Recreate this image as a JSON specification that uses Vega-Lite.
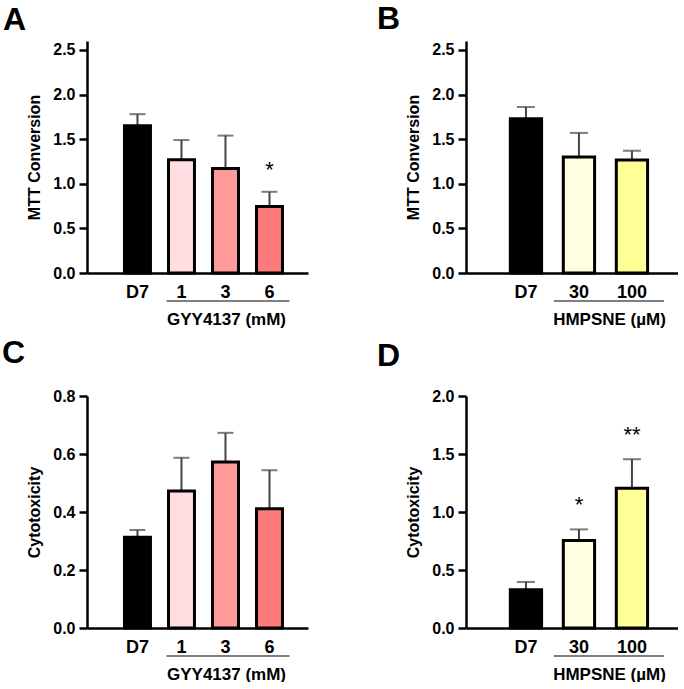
{
  "$schema": "https://vega.github.io/schema/vega-lite/v6.json",
  "background": "white",
  "padding": {"left": 2, "top": 3, "right": 0, "bottom": 0},
  "config": {
    "font": "Liberation Sans",
    "view": {"stroke": null},
    "axis": {
      "grid": false,
      "domainColor": "black",
      "domainWidth": 2.5,
      "tickColor": "black",
      "tickWidth": 2.5,
      "labelFont": "Liberation Sans",
      "labelFontWeight": "bold",
      "labelColor": "black",
      "titleFont": "Liberation Sans",
      "titleFontWeight": "bold",
      "titleColor": "black"
    },
    "axisY": {"tickSize": 8, "labelPadding": 4, "labelFontSize": 16, "titleFontSize": 16, "titlePadding": 10},
    "axisX": {"ticks": false, "tickSize": 0, "labelPadding": 10, "labelFontSize": 18, "labelAngle": 0, "titleFontSize": 17, "titleY": 51, "titleBaseline": "alphabetic", "titleAnchor": "middle"},
    "title": {"font": "Liberation Sans", "fontWeight": "bold", "fontSize": 32, "color": "black", "anchor": "start", "frame": "group", "baseline": "alphabetic"}
  },
  "datasets": {
    "A": [
      {"cond": "D7", "mean": 1.65, "upper": 1.78, "star": ""},
      {"cond": "1", "mean": 1.27, "upper": 1.49, "star": ""},
      {"cond": "3", "mean": 1.17, "upper": 1.54, "star": ""},
      {"cond": "6", "mean": 0.745, "upper": 0.91, "star": "*"}
    ],
    "B": [
      {"cond": "D7", "mean": 1.73, "upper": 1.86, "star": ""},
      {"cond": "30", "mean": 1.3, "upper": 1.57, "star": ""},
      {"cond": "100", "mean": 1.265, "upper": 1.37, "star": ""}
    ],
    "C": [
      {"cond": "D7", "mean": 0.313, "upper": 0.338, "star": ""},
      {"cond": "1", "mean": 0.472, "upper": 0.587, "star": ""},
      {"cond": "3", "mean": 0.572, "upper": 0.673, "star": ""},
      {"cond": "6", "mean": 0.411, "upper": 0.544, "star": ""}
    ],
    "D": [
      {"cond": "D7", "mean": 0.33, "upper": 0.397, "star": ""},
      {"cond": "30", "mean": 0.755, "upper": 0.85, "star": "*"},
      {"cond": "100", "mean": 1.205, "upper": 1.455, "star": "**"}
    ],
    "gGYY": [{"from": "1", "to": "6"}],
    "gHMP": [{"from": "30", "to": "100"}]
  },
  "columns": 2,
  "bounds": "flush",
  "spacing": {"row": 123, "column": 158},
  "resolve": {"scale": {"x": "independent", "y": "independent", "fill": "independent"}},
  "concat": [
    {
      "width": 221, "height": 232,
      "title": {"text": "A", "dx": -84, "offset": 4},
      "data": {"name": "A"},
      "encoding": {
        "x": {"field": "cond", "type": "nominal",
          "scale": {"domain": ["D7", "1", "3", "6"], "paddingInner": 0.41, "paddingOuter": 0.716, "align": 0.595},
          "axis": {"title": "GYY4137 (mM)", "titleX": 139}}
      },
      "layer": [
        {"mark": {"type": "rule", "color": "#444444", "strokeWidth": 2},
         "encoding": {"y": {"field": "mean", "type": "quantitative", "title": "MTT Conversion"}, "y2": {"field": "upper"}}},
        {"mark": {"type": "tick", "orient": "horizontal", "size": 16, "thickness": 2, "color": "#444444"},
         "encoding": {"y": {"field": "upper", "type": "quantitative", "title": "MTT Conversion"}}},
        {"mark": {"type": "bar", "stroke": "black", "strokeWidth": 3},
         "encoding": {
           "y": {"field": "mean", "type": "quantitative", "title": "MTT Conversion",
             "scale": {"domain": [0, 2.5]},
             "axis": {"values": [0, 0.5, 1, 1.5, 2, 2.5], "format": ".1f"}},
           "fill": {"field": "cond", "type": "nominal", "legend": null,
             "scale": {"domain": ["D7", "1", "3", "6"], "range": ["#000000", "#FFDDE0", "#FF9A9A", "#FF7A7A"]}}
         }},
        {"mark": {"type": "text", "fontSize": 22, "font": "Liberation Sans", "baseline": "alphabetic", "dy": -15, "color": "black"},
         "encoding": {"y": {"field": "upper", "type": "quantitative", "title": "MTT Conversion"}, "text": {"field": "star"}}},
        {"data": {"name": "gGYY"},
         "mark": {"type": "rule", "color": "#555555", "strokeWidth": 1.5, "yOffset": 28, "xOffset": -15, "x2Offset": 20},
         "encoding": {"x": {"field": "from", "type": "nominal"}, "x2": {"field": "to"}, "y": {"datum": 0}}}
      ]
    },
    {
      "width": 212, "height": 232,
      "title": {"text": "B", "dx": -89, "offset": 5},
      "data": {"name": "B"},
      "encoding": {
        "x": {"field": "cond", "type": "nominal",
          "scale": {"domain": ["D7", "30", "100"], "paddingInner": 0.41, "paddingOuter": 0.705, "align": 0.593},
          "axis": {"title": "HMPSNE (µM)", "titleX": 143}}
      },
      "layer": [
        {"mark": {"type": "rule", "color": "#444444", "strokeWidth": 2},
         "encoding": {"y": {"field": "mean", "type": "quantitative", "title": "MTT Conversion"}, "y2": {"field": "upper"}}},
        {"mark": {"type": "tick", "orient": "horizontal", "size": 18, "thickness": 2, "color": "#444444"},
         "encoding": {"y": {"field": "upper", "type": "quantitative", "title": "MTT Conversion"}}},
        {"mark": {"type": "bar", "stroke": "black", "strokeWidth": 3},
         "encoding": {
           "y": {"field": "mean", "type": "quantitative", "title": "MTT Conversion",
             "scale": {"domain": [0, 2.5]},
             "axis": {"values": [0, 0.5, 1, 1.5, 2, 2.5], "format": ".1f"}},
           "fill": {"field": "cond", "type": "nominal", "legend": null,
             "scale": {"domain": ["D7", "30", "100"], "range": ["#000000", "#FFFEE0", "#FFFF96"]}}
         }},
        {"mark": {"type": "text", "fontSize": 22, "font": "Liberation Sans", "baseline": "alphabetic", "dy": -15, "color": "black"},
         "encoding": {"y": {"field": "upper", "type": "quantitative", "title": "MTT Conversion"}, "text": {"field": "star"}}},
        {"data": {"name": "gHMP"},
         "mark": {"type": "rule", "color": "#555555", "strokeWidth": 1.5, "yOffset": 28, "xOffset": -25, "x2Offset": 32},
         "encoding": {"x": {"field": "from", "type": "nominal"}, "x2": {"field": "to"}, "y": {"datum": 0}}}
      ]
    },
    {
      "width": 221, "height": 232,
      "title": {"text": "C", "dx": -85, "offset": 18},
      "data": {"name": "C"},
      "encoding": {
        "x": {"field": "cond", "type": "nominal",
          "scale": {"domain": ["D7", "1", "3", "6"], "paddingInner": 0.41, "paddingOuter": 0.716, "align": 0.595},
          "axis": {"title": "GYY4137 (mM)", "titleX": 139}}
      },
      "layer": [
        {"mark": {"type": "rule", "color": "#444444", "strokeWidth": 2},
         "encoding": {"y": {"field": "mean", "type": "quantitative", "title": "Cytotoxicity"}, "y2": {"field": "upper"}}},
        {"mark": {"type": "tick", "orient": "horizontal", "size": 16, "thickness": 2, "color": "#444444"},
         "encoding": {"y": {"field": "upper", "type": "quantitative", "title": "Cytotoxicity"}}},
        {"mark": {"type": "bar", "stroke": "black", "strokeWidth": 3},
         "encoding": {
           "y": {"field": "mean", "type": "quantitative", "title": "Cytotoxicity",
             "scale": {"domain": [0, 0.8]},
             "axis": {"values": [0, 0.2, 0.4, 0.6, 0.8], "format": ".1f"}},
           "fill": {"field": "cond", "type": "nominal", "legend": null,
             "scale": {"domain": ["D7", "1", "3", "6"], "range": ["#000000", "#FFDDE0", "#FF9A9A", "#FF7A7A"]}}
         }},
        {"mark": {"type": "text", "fontSize": 22, "font": "Liberation Sans", "baseline": "alphabetic", "dy": -15, "color": "black"},
         "encoding": {"y": {"field": "upper", "type": "quantitative", "title": "Cytotoxicity"}, "text": {"field": "star"}}},
        {"data": {"name": "gGYY"},
         "mark": {"type": "rule", "color": "#555555", "strokeWidth": 1.5, "yOffset": 28, "xOffset": -15, "x2Offset": 20},
         "encoding": {"x": {"field": "from", "type": "nominal"}, "x2": {"field": "to"}, "y": {"datum": 0}}}
      ]
    },
    {
      "width": 212, "height": 232,
      "title": {"text": "D", "dx": -89, "offset": 15},
      "data": {"name": "D"},
      "encoding": {
        "x": {"field": "cond", "type": "nominal",
          "scale": {"domain": ["D7", "30", "100"], "paddingInner": 0.41, "paddingOuter": 0.705, "align": 0.593},
          "axis": {"title": "HMPSNE (µM)", "titleX": 143}}
      },
      "layer": [
        {"mark": {"type": "rule", "color": "#444444", "strokeWidth": 2},
         "encoding": {"y": {"field": "mean", "type": "quantitative", "title": "Cytotoxicity"}, "y2": {"field": "upper"}}},
        {"mark": {"type": "tick", "orient": "horizontal", "size": 18, "thickness": 2, "color": "#444444"},
         "encoding": {"y": {"field": "upper", "type": "quantitative", "title": "Cytotoxicity"}}},
        {"mark": {"type": "bar", "stroke": "black", "strokeWidth": 3},
         "encoding": {
           "y": {"field": "mean", "type": "quantitative", "title": "Cytotoxicity",
             "scale": {"domain": [0, 2]},
             "axis": {"values": [0, 0.5, 1, 1.5, 2], "format": ".1f"}},
           "fill": {"field": "cond", "type": "nominal", "legend": null,
             "scale": {"domain": ["D7", "30", "100"], "range": ["#000000", "#FFFEE0", "#FFFF96"]}}
         }},
        {"mark": {"type": "text", "fontSize": 22, "font": "Liberation Sans", "baseline": "alphabetic", "dy": -17, "color": "black"},
         "encoding": {"y": {"field": "upper", "type": "quantitative", "title": "Cytotoxicity"}, "text": {"field": "star"}}},
        {"data": {"name": "gHMP"},
         "mark": {"type": "rule", "color": "#555555", "strokeWidth": 1.5, "yOffset": 28, "xOffset": -25, "x2Offset": 32},
         "encoding": {"x": {"field": "from", "type": "nominal"}, "x2": {"field": "to"}, "y": {"datum": 0}}}
      ]
    }
  ]
}
